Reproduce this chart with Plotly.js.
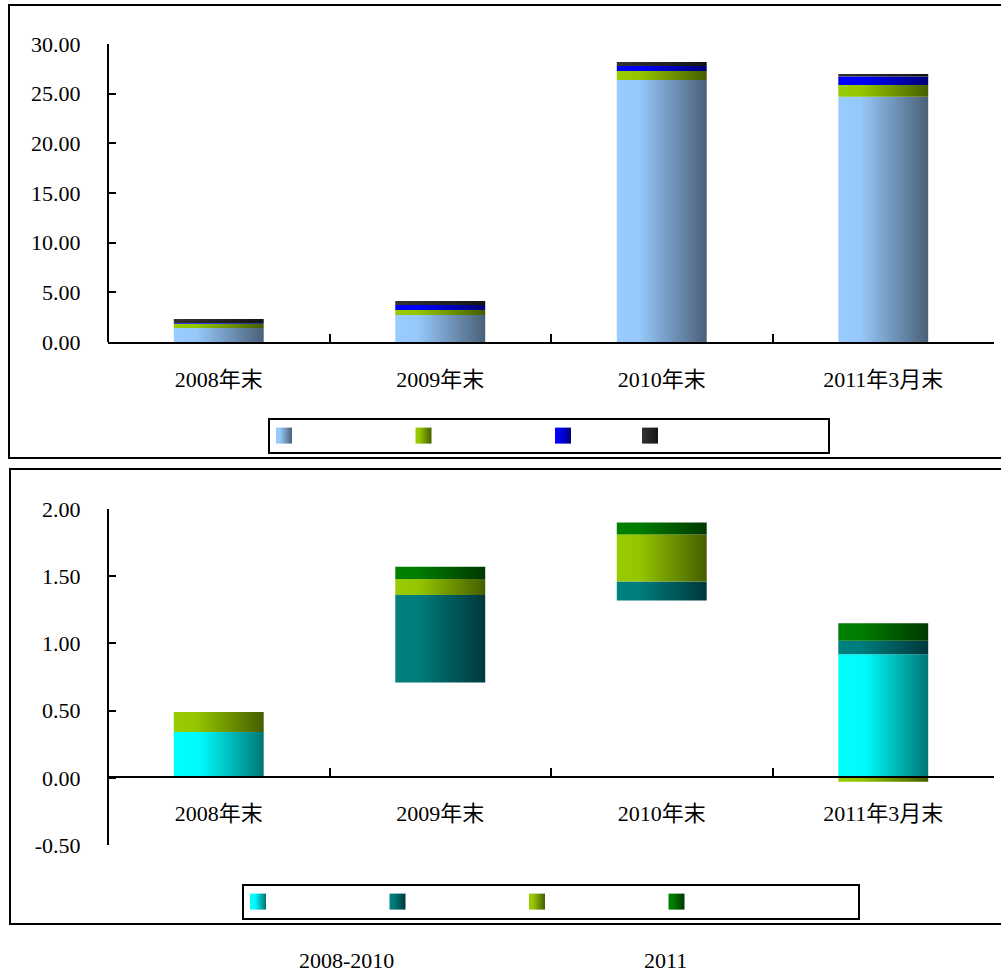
<!DOCTYPE html>
<html>
<head>
<meta charset="utf-8">
<script src="https://cdn.plot.ly/plotly-3.0.1.min.js"></script>
<style>
  html, body { margin: 0; padding: 0; background: #fff; }
  #chart { width: 1001px; height: 976px; }
</style>
</head>
<body>
<div id="chart"></div>
<script>
// ---------- data ----------
var categories = ['2008年末', '2009年末', '2010年末', '2011年3月末'];

// top chart (stacked)
var topSeriesA = [1.40, 2.72, 26.38, 24.70];   // light blue
var topSeriesB = [0.43, 0.50, 0.90, 1.18];     // yellow-green
var topSeriesC = [0.08, 0.50, 0.50, 0.84];     // blue
var topSeriesD = [0.40, 0.40, 0.40, 0.27];     // dark grey
var topTickVals = [0, 5, 10, 15, 20, 25, 30];
var topTickText = ['0.00', '5.00', '10.00', '15.00', '20.00', '25.00', '30.00'];

// bottom chart (floating stacked)
var botOffset  = [0, 0.71, 1.32, 0];           // invisible base
var botSeriesA = [0.34, 0, 0, 0.92];           // cyan
var botSeriesB = [0, 0.65, 0.14, 0.10];        // teal
var botSeriesC = [0.15, 0.12, 0.35, -0.03];    // yellow-green
var botSeriesD = [0, 0.09, 0.09, 0.13];        // dark green
var botTickVals = [-0.5, 0, 0.5, 1, 1.5, 2];
var botTickText = ['-0.50', '0.00', '0.50', '1.00', '1.50', '2.00'];

var footLabels = ['2008-2010', '2011'];

// legend names are blank in the reference (spacing only)
function blank(n) { return '\u00a0'.repeat(n); }

// ---------- layout helpers ----------
var W = 1001, H = 976;
function px(x) { return x / W; }
function py(y) { return (H - y) / H; }

var FONT = '"Liberation Serif", "Times New Roman", "Noto Sans CJK SC", serif';

var C = {
  lblue: '#99ccff', ygreen: '#99cc00', blue: '#0000ff', dark: '#333333',
  cyan: '#00ffff', teal: '#008080', dgreen: '#008000'
};

function bar(y, name, color, xa, ya, legend, show) {
  return {
    type: 'bar', x: categories, y: y, name: name,
    xaxis: xa, yaxis: ya, legend: legend,
    showlegend: show !== false,
    marker: { color: color, line: { width: 0 } },
    hoverinfo: 'skip'
  };
}

var data = [
  bar(topSeriesA, blank(27), C.lblue, 'x', 'y', 'legend'),
  bar(topSeriesB, blank(27), C.ygreen, 'x', 'y', 'legend'),
  bar(topSeriesC, blank(12), C.blue, 'x', 'y', 'legend'),
  bar(topSeriesD, blank(42), C.dark, 'x', 'y', 'legend'),
  bar(botOffset, 'base', 'rgba(0,0,0,0)', 'x2', 'y2', 'legend2', false),
  bar(botSeriesA, blank(27), C.cyan, 'x2', 'y2', 'legend2'),
  bar(botSeriesB, blank(27), C.teal, 'x2', 'y2', 'legend2'),
  bar(botSeriesC, blank(27), C.ygreen, 'x2', 'y2', 'legend2'),
  bar(botSeriesD, blank(43), C.dgreen, 'x2', 'y2', 'legend2')
];

var tickFont = { family: FONT, size: 22, color: '#000' };

var xCommon = {
  type: 'category', domain: [px(108), px(994)], range: [-0.5, 3.5],
  showline: true, linecolor: '#000', linewidth: 2,
  ticks: 'inside', tickson: 'boundaries', ticklen: 8, tickwidth: 2, tickcolor: '#000',
  showgrid: false, zeroline: false, tickfont: tickFont, ticklabelstandoff: 17,
  fixedrange: true
};
var yCommon = {
  showline: true, linecolor: '#000', linewidth: 2,
  ticks: 'inside', ticklen: 7, tickwidth: 2, tickcolor: '#000',
  showgrid: false, zeroline: false, tickfont: tickFont, ticklabelstandoff: 22,
  tickmode: 'array', fixedrange: true, anchor: 'free', position: px(108)
};

var layout = {
  width: W, height: H,
  margin: { l: 0, r: 0, t: 0, b: 0 },
  paper_bgcolor: '#fff', plot_bgcolor: 'rgba(0,0,0,0)',
  barmode: 'relative', bargap: 0.594,
  font: { family: FONT, size: 22, color: '#000' },
  xaxis: Object.assign({}, xCommon, { anchor: 'y' }),
  yaxis: Object.assign({}, yCommon, {
    domain: [py(342), py(44)], range: [0, 30],
    tickvals: topTickVals, ticktext: topTickText
  }),
  xaxis2: Object.assign({}, xCommon, { anchor: 'free', position: py(777) }),
  yaxis2: Object.assign({}, yCommon, {
    domain: [py(845), py(509)], range: [-0.5, 2],
    tickvals: botTickVals, ticktext: botTickText
  }),
  legend: {
    orientation: 'h', x: px(268), xanchor: 'left', y: py(418), yanchor: 'top',
    bgcolor: '#fff', bordercolor: '#000', borderwidth: 2,
    font: { family: FONT, size: 14, color: '#000' }, traceorder: 'normal'
  },
  legend2: {
    orientation: 'h', x: px(242), xanchor: 'left', y: py(884), yanchor: 'top',
    bgcolor: '#fff', bordercolor: '#000', borderwidth: 2,
    font: { family: FONT, size: 14, color: '#000' }, traceorder: 'normal'
  },
  shapes: [
    { type: 'rect', xref: 'paper', yref: 'paper', x0: px(9), x1: 1.02, y0: py(458), y1: py(5),
      line: { color: '#000', width: 2 }, fillcolor: 'rgba(0,0,0,0)', layer: 'below' },
    { type: 'rect', xref: 'paper', yref: 'paper', x0: px(10), x1: 1.02, y0: py(924), y1: py(469),
      line: { color: '#000', width: 2 }, fillcolor: 'rgba(0,0,0,0)', layer: 'below' }
  ],
  annotations: [
    { text: footLabels[0], xref: 'paper', yref: 'paper', x: px(346), y: py(960),
      xanchor: 'center', yanchor: 'middle',
      showarrow: false, font: { family: FONT, size: 22, color: '#000' } },
    { text: footLabels[1], xref: 'paper', yref: 'paper', x: px(665), y: py(960),
      xanchor: 'center', yanchor: 'middle',
      showarrow: false, font: { family: FONT, size: 22, color: '#000' } }
  ]
};

// ---------- gradient styling (visual only) ----------
var gradients = [
  { key: 'rgb(153, 204, 255)', id: 'gLblue',  stops: [[0, '#99ccff'], [0.25, '#96c8fa'], [1, '#4a6078']] },
  { key: 'rgb(153, 204, 0)',   id: 'gYgreen', stops: [[0, '#99cc00'], [0.25, '#94c600'], [1, '#455e00']] },
  { key: 'rgb(0, 0, 255)',     id: 'gBlue',   stops: [[0, '#0000ff'], [0.3, '#0000f5'], [1, '#000078']] },
  { key: 'rgb(51, 51, 51)',    id: 'gDark',   stops: [[0, '#333333'], [1, '#141414']] },
  { key: 'rgb(0, 255, 255)',   id: 'gCyan',   stops: [[0, '#00ffff'], [0.3, '#00fafa'], [1, '#007676']] },
  { key: 'rgb(0, 128, 128)',   id: 'gTeal',   stops: [[0, '#008080'], [0.25, '#007c7c'], [1, '#00383c']] },
  { key: 'rgb(0, 128, 0)',     id: 'gDgreen', stops: [[0, '#008000'], [0.25, '#007c00'], [1, '#003800']] }
];

function applyGradients(gd) {
  var svg = gd.querySelector('svg.main-svg');
  var NS = 'http://www.w3.org/2000/svg';
  var defs = document.createElementNS(NS, 'defs');
  gradients.forEach(function (g) {
    var lg = document.createElementNS(NS, 'linearGradient');
    lg.setAttribute('id', g.id);
    lg.setAttribute('x1', '0'); lg.setAttribute('y1', '0');
    lg.setAttribute('x2', '1'); lg.setAttribute('y2', '0');
    g.stops.forEach(function (s) {
      var st = document.createElementNS(NS, 'stop');
      st.setAttribute('offset', s[0]);
      st.setAttribute('stop-color', s[1]);
      lg.appendChild(st);
    });
    defs.appendChild(lg);
  });
  svg.insertBefore(defs, svg.firstChild);

  gd.querySelectorAll('.barlayer path, .legendpoints path').forEach(function (p) {
    var f = p.style.fill;
    gradients.forEach(function (g) {
      if (f === g.key) p.style.fill = 'url(#' + g.id + ')';
    });
  });
  // larger legend swatches, nudged toward the box edge as in the reference
  gd.querySelectorAll('.legendpoints path').forEach(function (p) {
    p.setAttribute('d', 'M2,8H-14V-8H2Z');
    p.style.strokeWidth = '0';
  });
}

var gd = document.getElementById('chart');
Plotly.newPlot(gd, data, layout, { displayModeBar: false, staticPlot: true })
  .then(function () { applyGradients(gd); });
</script>
</body>
</html>
